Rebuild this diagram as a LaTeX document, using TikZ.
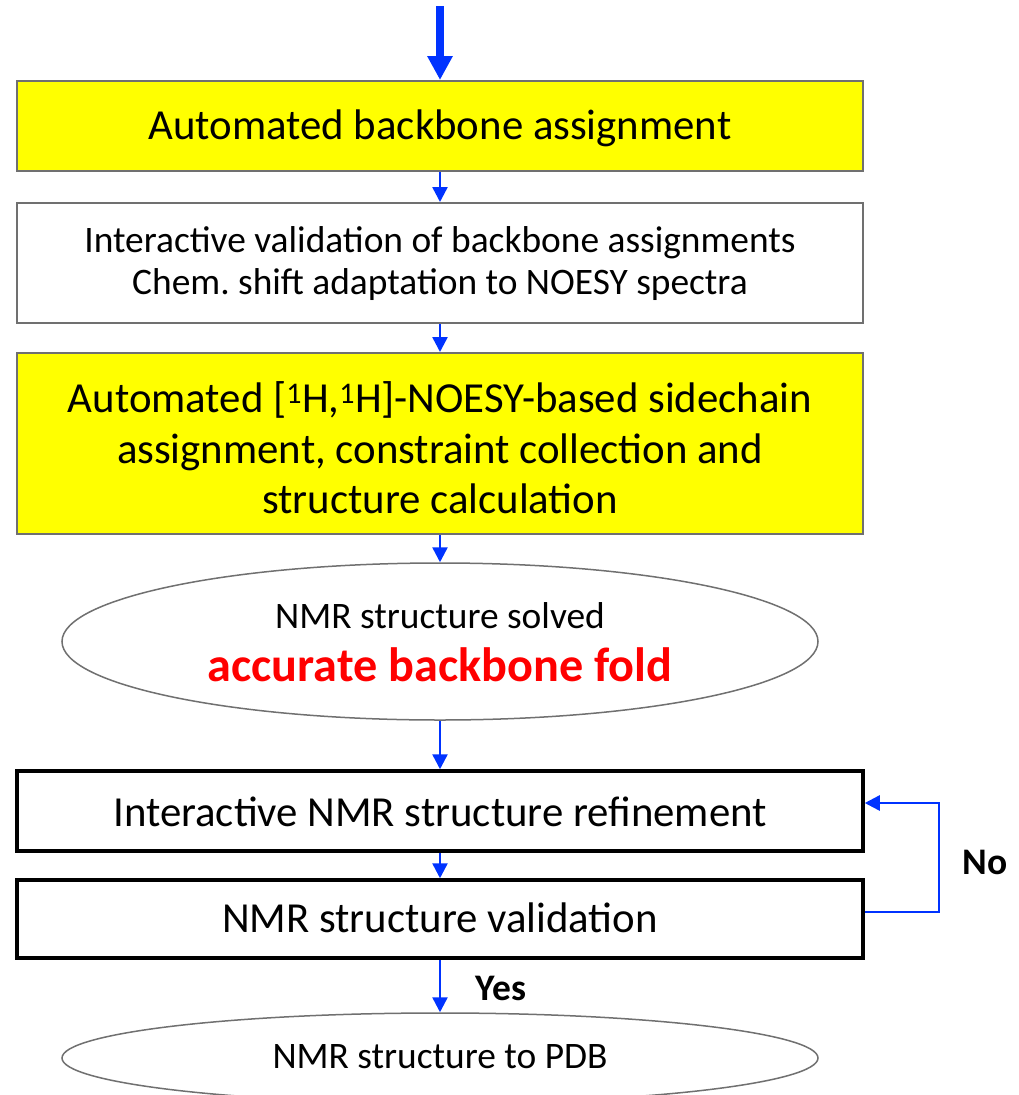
\documentclass[tikz,border=0pt]{standalone}
\usepackage{fontspec}
\setmainfont{Carlito}
\usetikzlibrary{arrows.meta,shapes.geometric}
\definecolor{arrowblue}{RGB}{0,51,255}
\definecolor{boxyellow}{RGB}{255,255,0}
\definecolor{edgegray}{RGB}{112,112,112}
\definecolor{txtred}{RGB}{255,0,0}
\frenchspacing
\tikzset{
  graybox/.style={draw=edgegray, line width=2pt, rectangle, minimum width=846pt, inner sep=0pt, align=center},
  yellowbox/.style={graybox, fill=boxyellow},
  blackbox/.style={draw=black, line width=3.5pt, rectangle, minimum width=846pt, inner sep=0pt, align=center},
  oval/.style={draw=edgegray, line width=1.5pt, ellipse, minimum width=756pt, inner sep=0pt, align=center},
  bigtxt/.style={font=\fontsize{42.8}{50.5}\selectfont},
  medtxt/.style={font=\fontsize{37.4}{42}\selectfont},
  flow/.style={draw=arrowblue, line width=2.5pt, -{Triangle[width=15pt,length=15pt]}},
  bigflow/.style={draw=arrowblue, line width=8pt, -{Triangle[width=24pt,length=24pt]}},
  loopflow/.style={draw=arrowblue, line width=2.5pt, -{Triangle[width=15pt,length=15pt]}},
  lbl/.style={font=\fontsize{37.5}{40}\selectfont\bfseries}
}
\begin{document}
\begin{tikzpicture}[x=1pt,y=-1pt]
\useasboundingbox (0,0) rectangle (1019,1095);
\fill[white] (0,0) rectangle (1019,1095);

\coordinate (start) at (440,6);
\node[yellowbox, minimum height=90pt] (b1) at (440,126) {};
\node[bigtxt] (b1t) at (440,128) {Automated backbone assignment};
\node[graybox, minimum height=120pt] (b2) at (440,263) {};
\node[medtxt, align=center] (b2t) at (440,264) {Interactive validation of backbone assignments\\Chem.\ shift adaptation to NOESY spectra};
\node[yellowbox, minimum height=181pt] (b3) at (440,443.5) {};
\node[bigtxt, align=center] (b3t) at (440,448) {Automated [\textsuperscript{1}H,\textsuperscript{1}H]-NOESY-based sidechain\\assignment, constraint collection and\\structure calculation};
\node[oval, minimum height=157pt] (e1) at (440,641.5) {};
\node[medtxt] (e1a) at (440,616) {NMR structure solved};
\node[font=\fontsize{48.2}{52}\selectfont\bfseries, text=txtred] (e1b) at (440,665) {accurate backbone fold};
\node[blackbox, minimum height=80pt] (b4) at (440,811) {};
\node[bigtxt] (b4t) at (440,812) {Interactive NMR structure refinement};
\node[blackbox, minimum height=78pt] (b5) at (440,919) {};
\node[bigtxt] (b5t) at (440,918) {NMR structure validation};
\node[oval, minimum height=90pt] (e2) at (440,1058) {};
\node[medtxt] (e2t) at (440,1057) {NMR structure to PDB};

\node[lbl] (no) at (985,862) {No};
\node[lbl] (yes) at (501,988) {Yes};

\draw[bigflow] (start) -- (b1.north);
\draw[flow] (b1.south) -- (b2.north);
\draw[flow] (b2.south) -- (b3.north);
\draw[flow] (b3.south) -- (e1.north);
\draw[flow] (e1.south) -- (b4.north);
\draw[flow] (b4.south) -- (b5.north);
\draw[flow] (b5.south) -- (e2.north);
\coordinate (loopx) at (939,860);
\draw[loopflow] ([yshift=7pt]b5.east) -| (loopx) |- ([yshift=8pt]b4.east);
\end{tikzpicture}
\end{document}
